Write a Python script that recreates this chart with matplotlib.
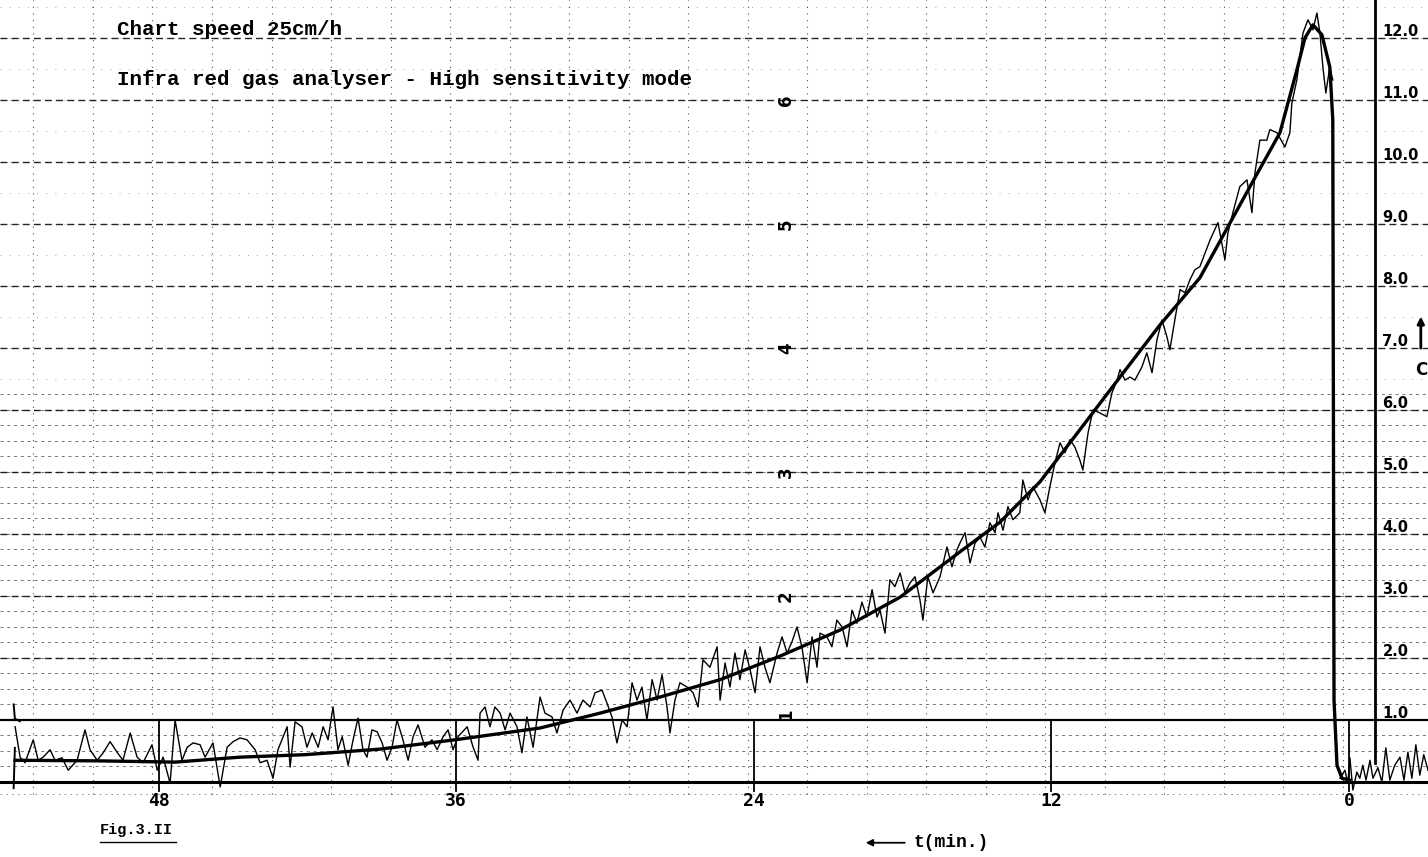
import numpy as np
import matplotlib.pyplot as plt

# time axis runs right to left (minutes before the end), signal in chart units 0-12

# fitted smooth curve
smooth_t = [53.79, 50.36, 47.34, 44.72, 42.10, 39.07, 36.05, 32.62, 30.20, 27.78,
            25.36, 22.94, 20.52, 18.10, 15.69, 14.07, 12.46, 10.85, 9.23, 7.62,
            6.01, 3.99, 2.78, 2.10, 1.77, 1.45, 1.09, 0.77, 0.65, 0.60, 0.48, 0.28, -0.04]
smooth_v = [0.35, 0.34, 0.32, 0.40, 0.44, 0.53, 0.68, 0.87, 1.11, 1.37,
            1.65, 2.03, 2.45, 2.98, 3.71, 4.19, 4.84, 5.68, 6.53, 7.37,
            8.13, 9.60, 10.47, 11.48, 12.00, 12.21, 12.05, 11.53, 10.68, 1.32, 0.27, 0.06, 0.03]

# raw recorder trace (peaks / troughs)
raw_t = [53.79, 53.59, 53.39, 53.06, 52.86, 52.66, 52.38, 52.18, 51.90, 51.65,
         51.29, 50.97, 50.77, 50.48, 50.24, 49.96, 49.68, 49.44, 49.15, 48.87,
         48.63, 48.27, 48.06, 47.82, 47.54, 47.34, 47.06, 46.85, 46.61, 46.33,
         46.13, 45.81, 45.52, 45.24, 45.00, 44.72,
         44.44, 44.11, 43.91, 43.63, 43.39, 43.19, 42.82, 42.70, 42.50, 42.22,
         42.02, 41.81, 41.57, 41.37, 41.17, 40.97, 40.77, 40.60, 40.36, 40.16,
         39.96, 39.76, 39.60, 39.40, 39.19, 38.99, 38.79, 38.59, 38.39, 38.15,
         37.94, 37.74, 37.54, 37.26, 36.98, 36.77, 36.53, 36.33, 36.13, 35.93,
         35.56, 35.32, 35.12,
         35.04, 34.84, 34.64, 34.44, 34.23, 34.03, 33.83, 33.55, 33.35, 33.15,
         32.90, 32.62, 32.42, 32.14, 31.94, 31.69, 31.41, 31.13, 30.89, 30.60,
         30.40, 30.12, 29.92, 29.72, 29.52, 29.31, 29.11, 28.91, 28.71, 28.51,
         28.31, 28.10, 27.90, 27.70, 27.50, 27.38, 27.18, 26.98, 26.69, 26.45,
         26.25, 26.05, 25.77, 25.48, 25.36,
         25.16, 24.96, 24.76, 24.56, 24.35, 24.15, 23.95, 23.75, 23.55, 23.35,
         23.06, 22.86, 22.66, 22.46, 22.26, 22.06, 21.85, 21.65, 21.45, 21.33,
         21.05, 20.85, 20.65, 20.44, 20.24, 20.04, 19.84, 19.64, 19.44, 19.23,
         19.03, 18.91, 18.71, 18.51, 18.31, 18.10, 17.90, 17.70, 17.50, 17.30,
         17.18, 16.98, 16.77, 16.49, 16.21, 16.01, 15.81, 15.69,
         15.48, 15.28, 15.08, 14.88, 14.68, 14.48, 14.27, 14.15, 13.95, 13.75,
         13.55, 13.27, 13.15, 12.94, 12.74, 12.46, 12.26, 12.06, 11.85, 11.65,
         11.45, 11.25, 11.05, 10.85, 10.73, 10.52, 10.32, 10.04, 9.76, 9.56,
         9.35, 9.23, 9.03, 8.83, 8.63, 8.35, 8.15, 7.94, 7.74, 7.54,
         7.34, 7.22, 7.02, 6.81, 6.61, 6.41, 6.21, 6.01,
         5.60, 5.28, 5.00, 4.88, 4.68, 4.40, 4.11, 3.91, 3.79, 3.59,
         3.31, 3.19, 2.90, 2.58, 2.38, 2.30, 2.10, 1.85, 1.65, 1.45,
         1.29, 1.17, 1.05, 0.93, 0.77, 0.65]
raw_v = [0.89, 0.40, 0.31, 0.68, 0.35, 0.40, 0.52, 0.35, 0.39, 0.19,
         0.35, 0.84, 0.52, 0.35, 0.47, 0.65, 0.48, 0.35, 0.79, 0.40,
         0.31, 0.60, 0.19, 0.40, -0.02, 1.00, 0.35, 0.56, 0.63, 0.60,
         0.40, 0.63, -0.08, 0.56, 0.65, 0.71,
         0.68, 0.52, 0.31, 0.35, 0.06, 0.52, 0.89, 0.24, 0.97, 0.89,
         0.56, 0.79, 0.56, 0.89, 0.68, 1.21, 0.52, 0.73, 0.27, 0.68,
         1.03, 0.52, 0.40, 0.84, 0.81, 0.63, 0.35, 0.56, 1.00, 0.68,
         0.35, 0.73, 0.92, 0.56, 0.68, 0.52, 0.73, 0.84, 0.52, 0.73,
         0.89, 0.56, 0.35,
         1.11, 1.21, 0.89, 1.21, 1.11, 0.84, 1.11, 0.89, 0.47, 1.05,
         0.56, 1.37, 1.11, 1.05, 0.79, 1.16, 1.32, 1.11, 1.32, 1.21,
         1.44, 1.48, 1.27, 1.05, 0.63, 1.00, 0.89, 1.60, 1.32, 1.53,
         1.00, 1.65, 1.32, 1.73, 1.21, 0.79, 1.32, 1.60, 1.53, 1.44,
         1.21, 1.97, 1.85, 2.18, 1.32,
         1.92, 1.53, 2.08, 1.65, 2.13, 1.81, 1.44, 2.18, 1.85, 1.60,
         2.08, 2.34, 2.08, 2.26, 2.50, 2.18, 1.60, 2.34, 1.85, 2.40,
         2.34, 2.18, 2.61, 2.50, 2.18, 2.77, 2.56, 2.90, 2.66, 3.10,
         2.66, 2.77, 2.40, 3.26, 3.15, 3.37, 3.05, 3.21, 3.31, 2.94,
         2.61, 3.31, 3.05, 3.31, 3.79, 3.47, 3.74, 3.85,
         4.02, 3.53, 3.85, 3.95, 3.79, 4.18, 4.02, 4.34, 4.06, 4.44,
         4.23, 4.34, 4.87, 4.55, 4.76, 4.55, 4.34, 4.76, 5.15, 5.47,
         5.31, 5.52, 5.40, 5.19, 5.03, 5.63, 6.00, 5.95, 5.89, 6.27,
         6.48, 6.65, 6.48, 6.53, 6.48, 6.69, 6.92, 6.60, 7.13, 7.45,
         7.18, 6.97, 7.45, 7.94, 7.89, 8.10, 8.26, 8.31,
         8.74, 9.02, 8.42, 8.85, 9.18, 9.60, 9.71, 9.18, 9.82, 10.35,
         10.35, 10.52, 10.47, 10.24, 10.47, 10.95, 11.32, 12.08, 12.29, 12.13,
         12.40, 12.08, 11.53, 11.11, 11.53, 11.32]

# baseline noise after the gas is switched off
tail_t = [0.36, 0.16, 0.04, -0.04, -0.16, -0.32, -0.44, -0.56, -0.69, -0.85, -0.97,
          -1.17, -1.33, -1.49, -1.65, -1.85, -2.06, -2.22, -2.38, -2.54, -2.70,
          -2.86, -3.02, -3.19]
tail_v = [0.06, 0.19, -0.02, 0.39, -0.13, 0.16, 0.06, 0.27, 0.03, 0.35, 0.06,
          0.23, 0.00, 0.55, 0.03, 0.27, 0.40, 0.03, 0.48, 0.06, 0.60,
          0.11, 0.44, 0.19]

time_ticks = [48, 36, 24, 12, 0]
time_labels = ['48', '36', '24', '12', '0']
right_vals = [12, 11, 10, 9, 8, 7, 6, 5, 4, 3, 2, 1]
right_labels = ['12.0', '11.0', '10.0', '9.0', '8.0', '7.0', '6.0', '5.0', '4.0', '3.0', '2.0', '1.0']
inner_vals = [1.1, 3.0, 5.0, 7.0, 9.0, 11.0]
inner_labels = ['1', '2', '3', '4', '5', '6']

mono = 'Liberation Mono'

fig = plt.figure(figsize=(14.28, 8.57), dpi=100)
ax = fig.add_axes([0, 0, 1, 1])
ax.set_xlim(54.4, -3.19)
ax.set_ylim(-1.21, 12.61)
ax.axis('off')

# chart paper grid
for v in np.arange(0.25, 6.5, 0.25):
    ax.axhline(v, color='black', lw=0.7, ls=(0, (3, 4)), alpha=0.55)
for v in np.arange(6.5, 12.6, 0.5):
    ax.axhline(v, color='black', lw=0.6, ls=(0, (1, 10)), alpha=0.5)
for v in range(2, 13):
    ax.axhline(v, color='black', lw=1.0, ls=(0, (5, 3)), alpha=0.85)
ax.axhline(-0.2, color='black', lw=0.6, ls=(0, (2, 5)), alpha=0.5)
for t in np.arange(0.25, 54, 2.4):
    ax.plot([t, t], [-0.2, 12.61], color='black', lw=0.8, ls=(0, (1, 5)), alpha=0.7)

# heavy reference lines
ax.axhline(0, color='black', lw=2.2)
ax.axhline(1.0, color='black', lw=1.6)
ax.plot([-1.05, -1.05], [0.3, 12.61], color='black', lw=2.0)
ax.plot([53.85, 53.8], [-0.1, 0.55], color='black', lw=1.4)
ax.plot([53.85, 53.8, 53.6], [1.25, 1.02, 0.98], color='black', lw=1.4)
for t in time_ticks:
    ax.plot([t, t], [-0.15, 1.0], color='black', lw=1.3)

# traces
ax.plot(raw_t, raw_v, color='black', lw=1.0)
ax.plot(tail_t, tail_v, color='black', lw=1.0)
ax.plot(smooth_t, smooth_v, color='black', lw=2.4)

# labels
for t, s in zip(time_ticks, time_labels):
    ax.text(t, -0.3, s, ha='center', va='center', fontsize=13,
            fontweight='bold', family='DejaVu Sans Mono')
for v, s in zip(right_vals, right_labels):
    ax.text(-1.35, v + 0.1, s, ha='left', va='center', fontsize=10.5,
            fontweight='bold', family='DejaVu Sans')
for v, s in zip(inner_vals, inner_labels):
    ax.text(22.7, v, s, ha='center', va='center', fontsize=12,
            fontweight='bold', rotation=90, family='DejaVu Sans')

ax.text(49.68, 12.13, 'Chart speed 25cm/h', ha='left', va='center',
        fontsize=15, fontweight='bold', family=mono)
ax.text(49.68, 11.32, 'Infra red gas analyser - High sensitivity mode', ha='left',
        va='center', fontsize=15, fontweight='bold', family=mono)
ax.text(50.36, -0.77, 'Fig.3.II', ha='left', va='center', fontsize=11,
        fontweight='bold', family=mono)
ax.plot([50.36, 47.3], [-0.97, -0.97], color='black', lw=1.0)
ax.text(17.55, -0.98, 't(min.)', ha='left', va='center', fontsize=13,
        fontweight='bold', family=mono)
ax.annotate('', xy=(19.6, -0.98), xytext=(17.8, -0.98),
            arrowprops=dict(arrowstyle='-|>', color='black', lw=1.3))
ax.annotate('', xy=(-2.9, 7.55), xytext=(-2.9, 6.95),
            arrowprops=dict(arrowstyle='-|>', color='black', lw=2.0))
ax.text(-3.16, 6.65, 'C', ha='right', va='center', fontsize=12,
        fontweight='bold', family='DejaVu Sans')

fig.savefig('out.png', dpi=100)
